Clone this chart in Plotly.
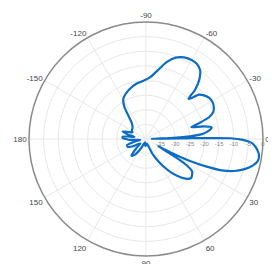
import plotly.graph_objects as go

# Pattern trace: angle (deg, clockwise from right) and level (dB)
theta_deg = [
    -180, -178, -174, -170, -166, -162, -158, -154, -150, -140, -132, -127, -124, -120,
    -115, -108, -100, -92, -86, -80, -75, -70, -65, -60, -56, -52, -48, -45, -43.5,
    -42, -40, -37, -33, -29, -25, -22, -19, -16.5, -14.5, -12.5, -10, -8, -6.5, -5,
    -3.5, -2.5, -2, -1.5, -1, -0.5, 0.5, 2, 3.5, 5, 8, 11, 14, 17, 20, 22.5, 24.5,
    26.5, 28, 29.5, 30.5, 31.5, 33, 35, 38, 41, 44, 48, 53, 58, 63, 67, 70, 80, 95,
    108, 118, 126, 131, 136, 142, 150, 157, 162, 167, 172, 177, 180,
]
level_db = [
    -33.2, -32.0, -32.0, -36.0, -33.6, -31.6, -33.6, -34.8, -34.4, -34.0, -32.8, -30.0,
    -26.8, -24.4, -23.2, -22.0, -20.8, -20.0, -18.8, -16.0, -12.8, -10.4, -9.2, -8.8,
    -9.0, -10.0, -12.8, -16.4, -20.0, -19.2, -16.4, -15.2, -14.2, -14.0, -14.4, -15.2,
    -17.2, -21.2, -24.0, -20.0, -17.2, -18.0, -19.2, -20.8, -24.8, -32.0, -38.0, -38.0,
    -24.0, -11.2, -6.8, -4.0, -2.8, -2.0, -1.0, -1.0, -2.4, -4.8, -8.0, -12.0, -17.2,
    -23.2, -28.8, -34.0, -35.2, -28.0, -23.2, -20.8, -20.0, -19.6, -20.4, -22.4, -25.6,
    -29.2, -32.4, -34.8, -36.8, -38.4, -37.6, -38.8, -36.4, -33.2, -32.4, -35.2, -37.6,
    -35.2, -33.2, -33.2, -36.0, -38.0, -34.4, -33.2,
]

angle_tickvals = [0, 30, 60, 90, 120, 150, 180, 210, 240, 270, 300, 330]
angle_ticktext = ["0", "30", "60", "90", "120", "150", "180",
                  "-150", "-120", "-90", "-60", "-30"]
radial_tickvals = [-35, -30, -25, -20, -15, -10, -5, 0]
radial_ticktext = ["-35", "-30", "-25", "-20", "-15", "-10", "-5", "0"]

fig = go.Figure()
fig.add_trace(go.Scatterpolar(
    theta=theta_deg, r=level_db, mode="lines",
    line=dict(color="#0a6cc4", width=2.2, shape="spline", smoothing=0.6),
    showlegend=False, hoverinfo="skip",
))

fig.update_layout(
    width=268, height=256, autosize=False,
    margin=dict(l=21, r=13, t=14, b=8),
    paper_bgcolor="white",
    font=dict(family="Liberation Sans, Arial, sans-serif", size=8, color="#444444"),
    polar=dict(
        bgcolor="white",
        domain=dict(x=[0, 1], y=[0, 1]),
        angularaxis=dict(
            direction="clockwise", rotation=0,
            tickmode="array", tickvals=angle_tickvals, ticktext=angle_ticktext,
            showline=True, linecolor="#8a8a8a", linewidth=1.5,
            gridcolor="#e8e8e8", gridwidth=1, ticks="",
            tickfont=dict(size=8, color="#444444"),
        ),
        radialaxis=dict(
            range=[-40, 0], tickmode="array",
            tickvals=radial_tickvals, ticktext=radial_ticktext,
            angle=0, tickangle=0, side="clockwise", showline=False, ticks="",
            gridcolor="#e8e8e8", gridwidth=1,
            tickfont=dict(size=6, color="#888888"),
        ),
    ),
)

fig.write_html("out.html")
